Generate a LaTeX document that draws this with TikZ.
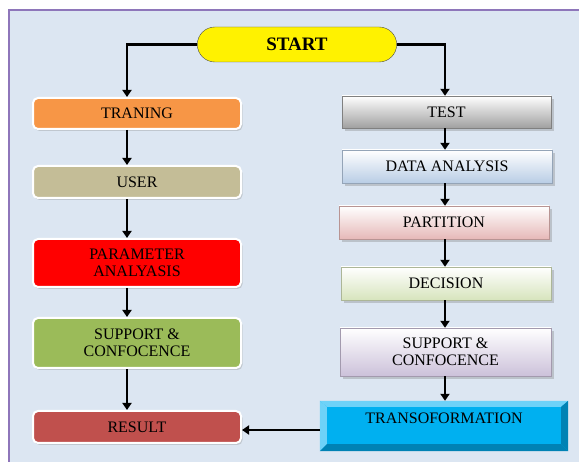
\documentclass[tikz,border=0pt]{standalone}
\usepackage{fontspec}
\setmainfont{Liberation Serif}
\usetikzlibrary{arrows.meta,shadows,shapes.misc}
\definecolor{bgblue}{RGB}{220,230,242}
\definecolor{framepurple}{RGB}{142,118,186}
\definecolor{orangebox}{RGB}{247,150,70}
\definecolor{userbox}{RGB}{196,189,151}
\definecolor{greenbox}{RGB}{155,187,89}
\definecolor{redbox}{RGB}{192,80,77}
\definecolor{testgray}{RGB}{160,160,160}
\definecolor{datablue}{RGB}{185,205,229}
\definecolor{partred}{RGB}{230,185,184}
\definecolor{decgreen}{RGB}{215,228,189}
\definecolor{suppurple}{RGB}{204,193,218}
\definecolor{cyanbox}{RGB}{0,176,240}
\definecolor{bevlight}{RGB}{110,210,248}
\definecolor{bevdark}{RGB}{0,130,180}

\begin{document}
\begin{tikzpicture}[x=1pt, y=-1pt,
font=\fontsize{16}{17.5}\selectfont,
startnode/.style={rounded rectangle, draw=black!70, fill=yellow, minimum width=206pt, minimum height=35pt, font=\fontsize{19}{21}\selectfont\bfseries},
lbox/.style={rectangle, rounded corners=5pt, draw=white, line width=2pt, fill=#1, minimum width=208pt, align=center, drop shadow={shadow xshift=1.5pt, shadow yshift=-2pt, opacity=.3}},
rbox/.style={rectangle, draw=#1!80!black, top color=white, bottom color=#1, minimum width=210pt, minimum height=33pt, align=center, drop shadow={shadow xshift=3pt, shadow yshift=-3pt, opacity=.35}},
arr/.style={draw=black, line width=2.4pt, -{Triangle[length=7pt, width=9pt]}},
]
\useasboundingbox (0,0) rectangle (579,462);
\clip (0,0) rectangle (579,462);
% frame
\fill[white] (0,0) rectangle (579,462);
\fill[bgblue] (9,10) rectangle (590,470);
\draw[framepurple, line width=2pt] (9,470) -- (9,10) -- (590,10);

\coordinate (lx) at (127,0);
\coordinate (rx) at (445,0);

\node[startnode] (start) at (297,44.5) {START};

% training side
\node[lbox=orangebox, minimum height=31pt] (trn) at (137,113.5) {TRANING};
\node[lbox=userbox, minimum height=32pt] (usr) at (137,182) {USER};
\node[lbox=red, minimum height=48pt] (par) at (137,263) {PARAMETER\\ANALYASIS};
\node[lbox=greenbox, minimum height=50pt] (sup) at (137,343) {SUPPORT \&\\CONFOCENCE};
\node[lbox=redbox, minimum height=32pt] (res) at (137,427) {RESULT};

% test side
\node[rbox=testgray, minimum width=209pt, minimum height=32pt] (tst) at (446.5,112) {TEST};
\node[rbox=datablue] (dat) at (447,166.5) {DATA ANALYSIS};
\node[rbox=partred] (prt) at (444,222.5) {PARTITION};
\node[rbox=decgreen] (dec) at (446,283.5) {DECISION};
\node[rbox=suppurple, minimum width=211pt, minimum height=48pt] (sp2) at (445.5,352) {SUPPORT \&\\CONFOCENCE};
\node[rectangle, fill=cyanbox, minimum width=248pt, minimum height=50pt, text height=11pt, text depth=15pt] (trf) at (444,426) {TRANSOFORMATION};

% bevel of the last box
\fill[bevlight] (trf.north west) -- (trf.north east) -- ([xshift=-7pt,yshift=-6pt]trf.north east) -- ([xshift=7pt,yshift=-6pt]trf.north west) -- cycle;
\fill[bevlight] (trf.north west) -- ([xshift=7pt,yshift=-6pt]trf.north west) -- ([xshift=7pt,yshift=7pt]trf.south west) -- (trf.south west) -- cycle;
\fill[bevdark] (trf.south west) -- (trf.south east) -- ([xshift=-7pt,yshift=7pt]trf.south east) -- ([xshift=7pt,yshift=7pt]trf.south west) -- cycle;
\fill[bevdark] (trf.north east) -- (trf.south east) -- ([xshift=-7pt,yshift=7pt]trf.south east) -- ([xshift=-7pt,yshift=-6pt]trf.north east) -- cycle;

% connectors
\draw[arr] (start.west) -| (lx |- trn.north);
\draw[arr] (start.east) -| (rx |- tst.north);
\foreach \a/\b in {trn/usr, usr/par, par/sup, sup/res}
  \draw[arr] (\a.south -| lx) -- (\b.north -| lx);
\foreach \a/\b in {tst/dat, dat/prt, prt/dec, dec/sp2, sp2/trf}
  \draw[arr] (\a.south -| rx) -- (\b.north -| rx);
\draw[arr] ([yshift=-4pt]trf.west) -- ([yshift=-4pt]trf.west -| res.east);
\end{tikzpicture}
\end{document}
